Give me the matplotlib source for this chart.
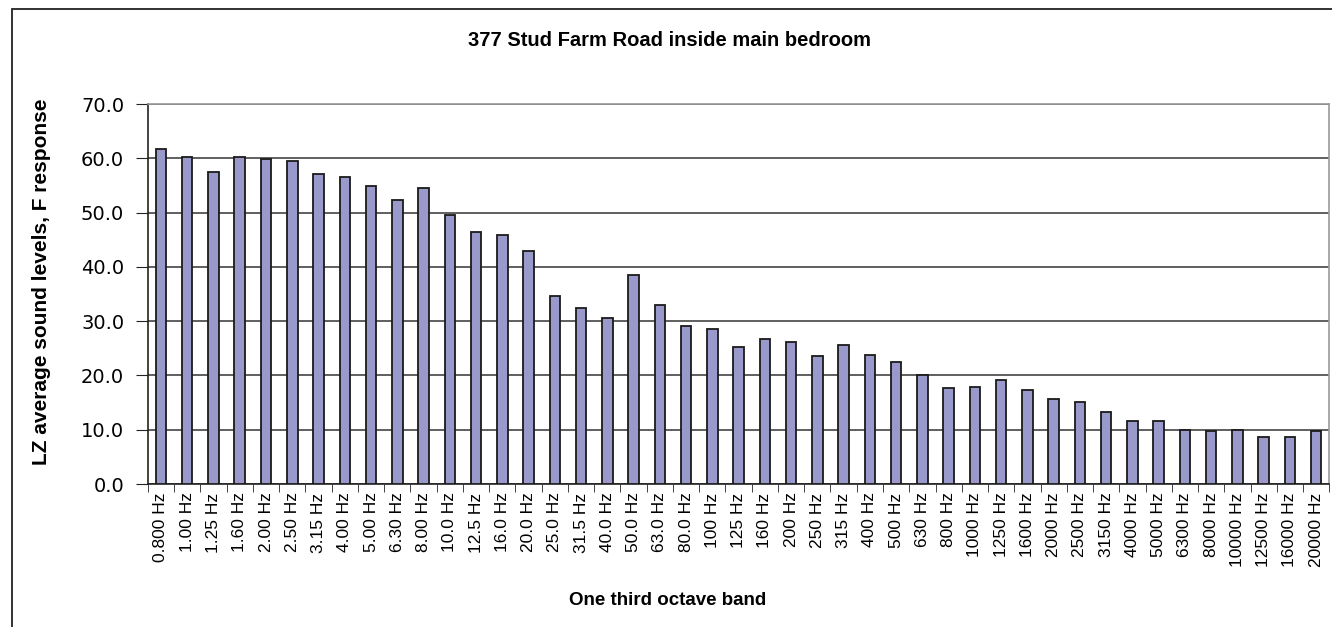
import matplotlib.pyplot as plt
import numpy as np
from matplotlib.patches import Rectangle

plt.rcParams['font.family'] = ['Liberation Sans', 'DejaVu Sans']

# One third octave band labels and LZ levels
bands = ["0.800 Hz", "1.00 Hz", "1.25 Hz", "1.60 Hz", "2.00 Hz", "2.50 Hz", "3.15 Hz",
         "4.00 Hz", "5.00 Hz", "6.30 Hz", "8.00 Hz", "10.0 Hz", "12.5 Hz", "16.0 Hz",
         "20.0 Hz", "25.0 Hz", "31.5 Hz", "40.0 Hz", "50.0 Hz", "63.0 Hz", "80.0 Hz",
         "100 Hz", "125 Hz", "160 Hz", "200 Hz", "250 Hz", "315 Hz", "400 Hz", "500 Hz",
         "630 Hz", "800 Hz", "1000 Hz", "1250 Hz", "1600 Hz", "2000 Hz", "2500 Hz",
         "3150 Hz", "4000 Hz", "5000 Hz", "6300 Hz", "8000 Hz", "10000 Hz", "12500 Hz",
         "16000 Hz", "20000 Hz"]
levels = [61.8, 60.3, 57.5, 60.3, 59.8, 59.5, 57.1, 56.6, 54.9, 52.3, 54.6, 49.5,
          46.4, 45.8, 42.9, 34.7, 32.4, 30.6, 38.5, 33.0, 29.2, 28.6, 25.3, 26.7,
          26.1, 23.5, 25.7, 23.8, 22.4, 20.0, 17.7, 17.9, 19.1, 17.4, 15.6, 15.1,
          13.3, 11.6, 11.6, 10.0, 9.8, 10.0, 8.6, 8.6, 9.8]
yticks = np.arange(0, 71, 10)

fig = plt.figure(figsize=(13.32, 6.27), dpi=100)
ax = fig.add_axes([0.111, 0.228, 0.887, 0.606])

x = np.arange(len(bands))
ax.bar(x, levels, width=0.4, color='#9999CC', edgecolor='#1a1a1a', linewidth=1.3, zorder=3)

ax.set_xlim(-0.5, len(bands) - 0.5)
ax.set_ylim(0, 70)
ax.set_yticks(yticks)
ax.set_yticklabels([f"{v:.1f}" for v in yticks], fontsize=14, family=['DejaVu Sans'])
ax.yaxis.grid(True, color='#444444', linewidth=1.2, zorder=0)

ax.set_xticks(x)
ax.set_xticklabels(bands, rotation=90, fontsize=12.5)
ax.tick_params(axis='x', length=0, pad=6)
ax.set_xticks(np.arange(-0.5, len(bands), 1), minor=True)
ax.tick_params(axis='x', which='minor', length=6, direction='out', color='#222222')
ax.tick_params(axis='y', length=9, direction='out', color='#222222', pad=8)

for s in ['top', 'right']:
    ax.spines[s].set_color('#999999')
    ax.spines[s].set_linewidth(1.2)
for s in ['left', 'bottom']:
    ax.spines[s].set_color('#222222')
    ax.spines[s].set_linewidth(1.2)

fig.text(0.503, 0.936, "377 Stud Farm Road inside main bedroom", ha='center', va='center',
         fontsize=14.5, fontweight='bold')
fig.text(0.501, 0.043, "One third octave band", ha='center', va='center',
         fontsize=13.5, fontweight='bold')
fig.text(0.031, 0.551, "LZ average sound levels, F response", ha='center', va='center',
         rotation=90, fontsize=15, fontweight='bold')

# outer chart frame
fig.patches.append(Rectangle((12 / 1332, -0.1), 1.2, 1.1 - 9 / 627,
                             transform=fig.transFigure, fill=False,
                             edgecolor='#222222', linewidth=1.3))

fig.savefig("out.png", dpi=100)
